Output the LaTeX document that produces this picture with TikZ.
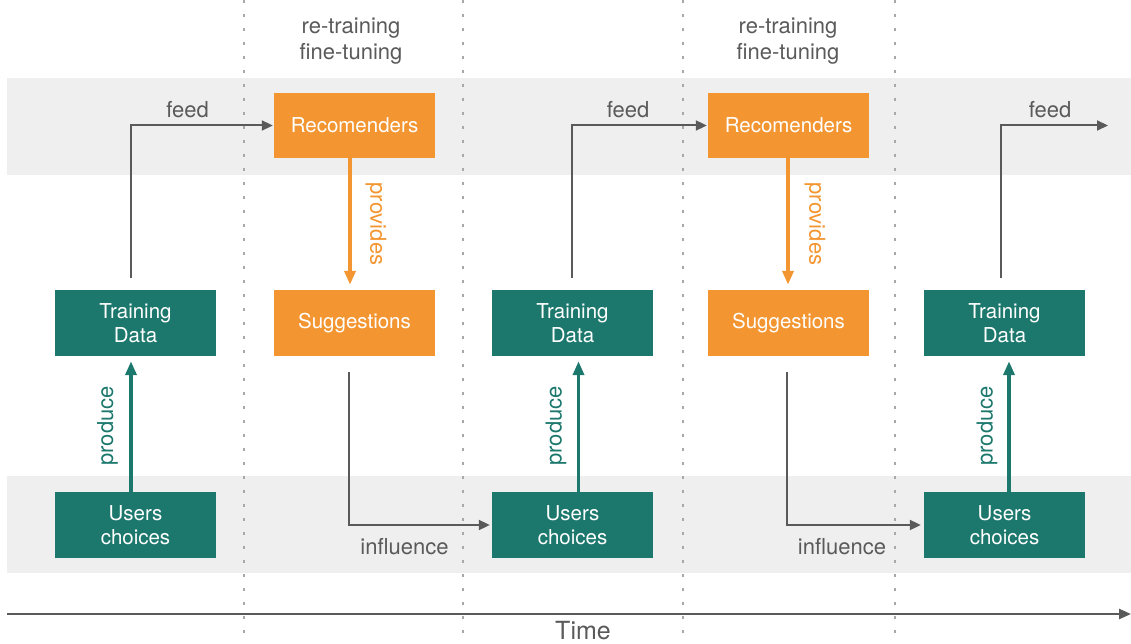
\documentclass[tikz,border=0pt]{standalone}
\usepackage{fontspec}
\setmainfont{TeX Gyre Heros}
\usetikzlibrary{arrows.meta}
\definecolor{tealc}{HTML}{1C786D}
\definecolor{orangec}{HTML}{F39530}
\definecolor{grayc}{HTML}{5A5A5A}
\definecolor{bandc}{HTML}{EFEFEF}
\definecolor{dashc}{HTML}{A8A8A8}
\begin{document}
\begin{tikzpicture}[x=1pt,y=-1pt,
  band/.style={fill=bandc},
  vdash/.style={draw=dashc,line width=1.2pt,dash pattern=on 3pt off 11pt},
  boxbase/.style={minimum width=161pt,inner sep=0pt,align=center,text=white,font=\fontsize{20.5}{24}\selectfont},
  tbox/.style={boxbase,fill=tealc,minimum height=66pt},
  obox/.style={boxbase,fill=orangec,minimum height=66pt},
  garrow/.style={draw=grayc,line width=2pt,-{Triangle[length=11pt,width=10pt]}},
  oarrow/.style={draw=orangec,line width=3.5pt,-{Triangle[length=14pt,width=11pt]}},
  tarrow/.style={draw=tealc,line width=3.5pt,-{Triangle[length=14pt,width=11pt]}},
  glabel/.style={text=grayc,font=\fontsize{22}{26}\selectfont,inner sep=0pt},
  olabel/.style={text=orangec,font=\fontsize{22}{26}\selectfont,inner sep=0pt,rotate=-90},
  tlabel/.style={text=tealc,font=\fontsize{22}{26}\selectfont,inner sep=0pt,rotate=90},
]
\useasboundingbox (0,0) rectangle (1131,644);
% bands
\fill[band] (7,78) rectangle (1131,175);
\fill[band] (7,476) rectangle (1131,573);
% dashed separators
\draw[vdash] (244,0) -- (244,644);
\draw[vdash] (463,0) -- (463,644);
\draw[vdash] (683,0) -- (683,644);
\draw[vdash] (895,0) -- (895,644);
% headers
\node[glabel,align=center] (h1) at (351,41) {re-training\\fine-tuning};
\node[glabel,align=center] (h2) at (788,41) {re-training\\fine-tuning};
% boxes
\node[tbox] (TD1) at (135.5,323) {Training\\Data};
\node[tbox] (UC1) at (135.5,525) {Users\\choices};
\node[obox,minimum height=65pt] (R1) at (354.5,125.5) {Recomenders};
\node[obox] (S1) at (354.5,323) {Suggestions};
\node[tbox] (TD2) at (572.5,323) {Training\\Data};
\node[tbox] (UC2) at (572.5,525) {Users\\choices};
\node[obox,minimum height=65pt] (R2) at (788.5,125.5) {Recomenders};
\node[obox] (S2) at (788.5,323) {Suggestions};
\node[tbox] (TD3) at (1004.5,323) {Training\\Data};
\node[tbox] (UC3) at (1004.5,525) {Users\\choices};
% feed arrows
\coordinate (feedend) at (1108,125.5);
\draw[garrow] ([xshift=-4.5pt,yshift=12pt]TD1.north) |- ([xshift=-1pt]R1.west);
\draw[garrow] ([xshift=-0.5pt,yshift=12pt]TD2.north) |- ([xshift=-1pt]R2.west);
\draw[garrow] ([xshift=-3.5pt,yshift=12pt]TD3.north) |- (feedend);
\node[glabel] (f1) at (187.5,110) {feed};
\node[glabel] (f2) at (628,110) {feed};
\node[glabel] (f3) at (1050,110) {feed};
% provides
\draw[oarrow] ([xshift=-4.5pt]R1.south) -- ([xshift=-4.5pt,yshift=5pt]S1.north);
\draw[oarrow] ([xshift=-0.5pt]R2.south) -- ([xshift=-0.5pt,yshift=5pt]S2.north);
\node[olabel] (p1) at (376,224) {provides};
\node[olabel] (p2) at (815,224) {provides};
% produce
\draw[tarrow] ([xshift=-4.5pt]UC1.north) -- ([xshift=-4.5pt,yshift=-5pt]TD1.south);
\draw[tarrow] ([xshift=6pt]UC2.north) -- ([xshift=6pt,yshift=-5pt]TD2.south);
\draw[tarrow] ([xshift=4.5pt]UC3.north) -- ([xshift=4.5pt,yshift=-5pt]TD3.south);
\node[tlabel] (q1) at (107.5,426) {produce};
\node[tlabel] (q2) at (556,426) {produce};
\node[tlabel] (q3) at (987,426) {produce};
% influence
\draw[garrow] ([xshift=-5.5pt,yshift=-16pt]S1.south) |- ([xshift=-2pt]UC2.west);
\draw[garrow] ([xshift=-1.5pt,yshift=-16pt]S2.south) |- ([xshift=-3pt]UC3.west);
\node[glabel] (i1) at (404.5,547) {influence};
\node[glabel] (i2) at (842,547) {influence};
% time axis
\coordinate (t0) at (7,614);
\coordinate (t1) at (1131,614);
\draw[draw=grayc,line width=2.5pt,-{Triangle[length=12pt,width=10pt]}] (t0) -- (t1);
\node[glabel,font=\fontsize{25}{28}\selectfont] (time) at (583,631) {Time};
\end{tikzpicture}
\end{document}
